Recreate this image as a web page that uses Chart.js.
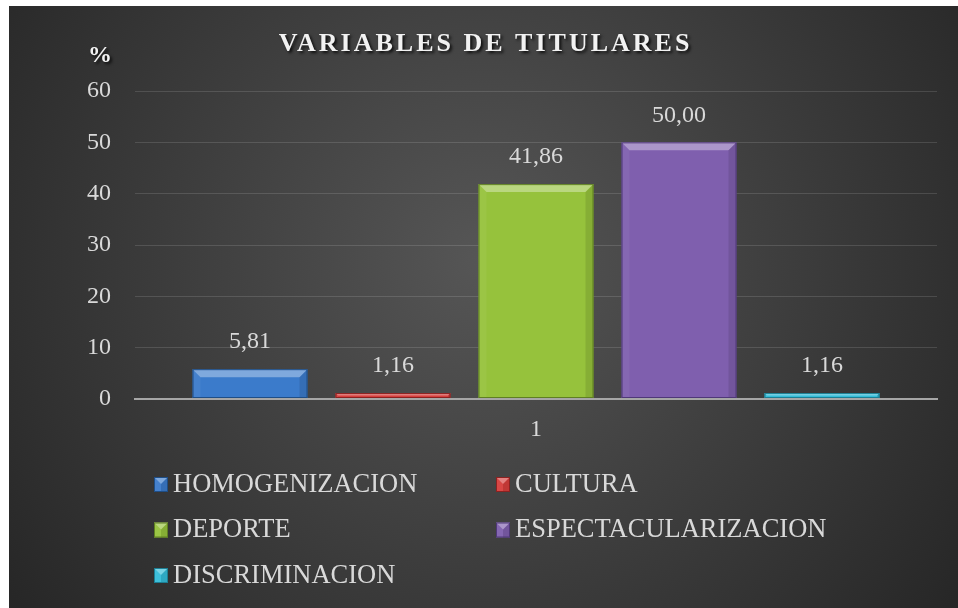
<!DOCTYPE html>
<html>
<head>
<meta charset="utf-8">
<script src="https://cdn.jsdelivr.net/npm/chart.js@4.4.1/dist/chart.umd.min.js"></script>
<style>
  html, body { margin: 0; padding: 0; background: #ffffff; }
  #wrap { position: absolute; left: 9px; top: 6px; width: 949px; height: 602px; }
</style>
</head>
<body>
<div id="wrap"><canvas id="myChart"></canvas></div>
<script>
// data
const categories = ['1'];
const seriesNames = ['HOMOGENIZACION', 'CULTURA', 'DEPORTE', 'ESPECTACULARIZACION', 'DISCRIMINACION'];
const seriesValues = [[5.81], [1.16], [41.86], [50.00], [1.16]];
const yTickMin = 0;
const yTickMax = 60;
const yTickStep = 10;
const chartTitle = 'VARIABLES DE TITULARES';
const yUnit = '%';

// styles
const baseColors = ['#3b7bcb', '#d63e3c', '#96c23c', '#7f5fae', '#34bcd8'];
const edgeColors = ['#1f4e86', '#8b2221', '#5f7f22', '#4f3878', '#1d7f94'];
const serif = "'Times New Roman', 'Liberation Serif', serif";
const textGrey = '#d9d9d9';

const backgroundPlugin = {
    id: 'bg',
    beforeDraw(chart) {
        const { ctx, width, height } = chart;
        ctx.save();
        const g = ctx.createRadialGradient(width * 0.5, height * 0.42, 0, width * 0.5, height * 0.42, 580);
        g.addColorStop(0, '#565656');
        g.addColorStop(1, '#272727');
        ctx.fillStyle = g;
        ctx.fillRect(0, 0, width, height);
        ctx.restore();
    }
};

// bevel look on the bars, on top of the library's own bar geometry
function bevelShape(ctx, left, top, right, bottom, i) {
    const b = Math.min(8, (bottom - top) / 2, (right - left) / 2);
    ctx.fillStyle = 'rgba(255,255,255,0.35)';
    ctx.beginPath();
    ctx.moveTo(left, top); ctx.lineTo(right, top);
    ctx.lineTo(right - b, top + b); ctx.lineTo(left + b, top + b);
    ctx.closePath(); ctx.fill();
    ctx.fillStyle = 'rgba(255,255,255,0.05)';
    ctx.beginPath();
    ctx.moveTo(left, top); ctx.lineTo(left + b, top + b);
    ctx.lineTo(left + b, bottom); ctx.lineTo(left, bottom);
    ctx.closePath(); ctx.fill();
    ctx.fillStyle = 'rgba(0,0,0,0.1)';
    ctx.beginPath();
    ctx.moveTo(right, top); ctx.lineTo(right - b, top + b);
    ctx.lineTo(right - b, bottom); ctx.lineTo(right, bottom);
    ctx.closePath(); ctx.fill();
    ctx.strokeStyle = edgeColors[i];
    ctx.lineWidth = 1;
    ctx.strokeRect(left + 0.5, top + 0.5, right - left - 1, bottom - top - 1);
}

const textPlugin = {
    id: 'texts',
    afterDatasetsDraw(chart) {
        const { ctx, chartArea } = chart;
        ctx.save();
        chart.data.datasets.forEach((ds, i) => {
            chart.getDatasetMeta(i).data.forEach((bar) => {
                const p = bar.getProps(['x', 'y', 'width', 'base'], true);
                bevelShape(ctx, p.x - p.width / 2, p.y, p.x + p.width / 2, p.base, i);
            });
        });

        // value labels above bars
        ctx.font = '24px ' + serif;
        ctx.fillStyle = textGrey;
        ctx.textAlign = 'center';
        ctx.textBaseline = 'middle';
        chart.data.datasets.forEach((ds, i) => {
            const meta = chart.getDatasetMeta(i);
            meta.data.forEach((bar, j) => {
                const v = ds.data[j];
                ctx.fillText(v.toFixed(2).replace('.', ','), bar.x, bar.y - 27);
            });
        });

        // title
        ctx.font = 'bold 26px ' + serif;
        ctx.letterSpacing = '3px';
        ctx.shadowColor = 'rgba(0,0,0,0.8)';
        ctx.shadowOffsetX = 2;
        ctx.shadowOffsetY = 2;
        ctx.shadowBlur = 3;
        ctx.fillStyle = '#f2f2f2';
        ctx.fillText(chartTitle, chart.width / 2 + 2, 38);
        ctx.letterSpacing = '0px';

        // unit label
        ctx.font = 'bold 24px ' + serif;
        ctx.fillText(yUnit, chartArea.left - 35, chartArea.top - 35);
        ctx.shadowColor = 'transparent';

        // legend in two columns
        ctx.font = '26.5px ' + serif;
        ctx.textAlign = 'left';
        chart.data.datasets.forEach((ds, i) => {
            const col = i % 2;
            const row = Math.floor(i / 2);
            const x = 145 + col * 342;
            const y = 478 + row * 45.5;
            ctx.fillStyle = baseColors[i];
            ctx.fillRect(x, y - 7, 14, 15);
            bevelShape(ctx, x, y - 7, x + 14, y + 8, i);
            ctx.fillStyle = textGrey;
            ctx.fillText(ds.label, x + 19, y + 1);
        });
        ctx.restore();
    }
};

new Chart(document.getElementById('myChart').getContext('2d'), {
    type: 'bar',
    data: {
        labels: categories,
        datasets: seriesNames.map((name, i) => ({
            label: name,
            data: seriesValues[i],
            backgroundColor: baseColors[i],
            borderWidth: 0,
            categoryPercentage: 0.8915,
            barPercentage: 0.804
        }))
    },
    options: {
        responsive: true,
        maintainAspectRatio: false,
        animation: false,
        layout: { padding: { top: 85, right: 21, bottom: 0, left: 0 } },
        plugins: {
            legend: { display: false },
            title: { display: false },
            tooltip: { enabled: false }
        },
        scales: {
            x: {
                grid: { display: false, drawTicks: false },
                border: { display: true, color: '#a6a6a6', width: 2 },
                ticks: { color: textGrey, font: { family: serif, size: 24 }, padding: 16 },
                afterFit(scale) { scale.height = 209; }
            },
            y: {
                min: yTickMin,
                max: yTickMax,
                ticks: { stepSize: yTickStep, color: textGrey, font: { family: serif, size: 24 }, padding: 24 },
                grid: {
                    drawTicks: false,
                    color: (c) => c.tick.value === 0 ? '#a6a6a6' : 'rgba(255,255,255,0.13)',
                    lineWidth: (c) => c.tick.value === 0 ? 2 : 1
                },
                border: { display: false },
                afterFit(scale) { scale.width = 126; }
            }
        }
    },
    plugins: [backgroundPlugin, textPlugin]
});
</script>
</body>
</html>
